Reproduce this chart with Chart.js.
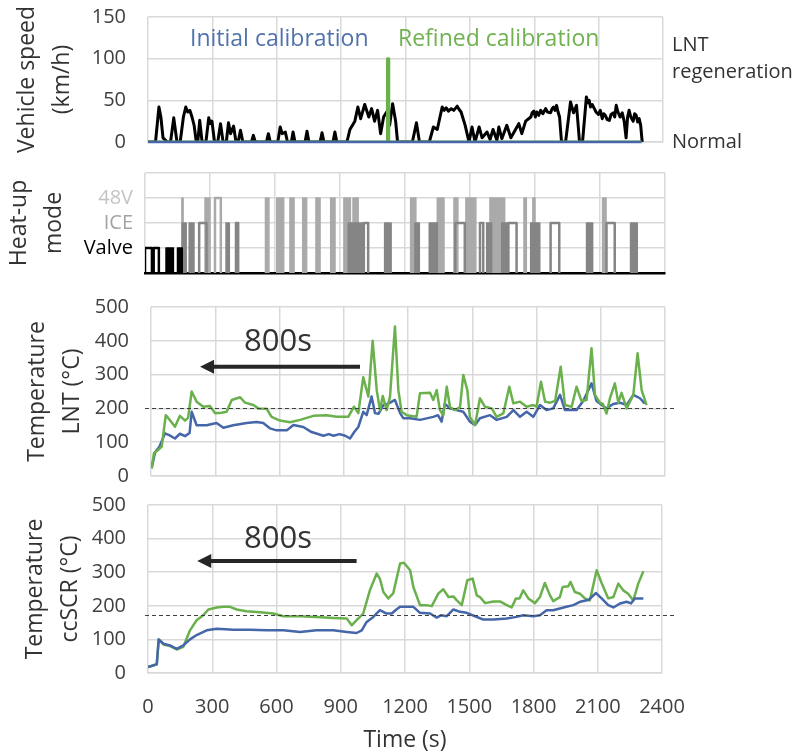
<!DOCTYPE html>
<html>
<head>
<meta charset="utf-8">
<title>LNT heat-up calibration</title>
<script src="https://cdn.jsdelivr.net/npm/chart.js@4.4.1/dist/chart.umd.min.js"></script>
<style>
  body { margin: 0; background: #fff; }
  #fig { position: relative; width: 801px; height: 756px; }
  #fig canvas { position: absolute; left: 0; }
  .tag { position: absolute; font: 23px "Open Sans", sans-serif; line-height: 30px; white-space: nowrap; }
</style>
</head>
<body>
<div id="fig">
  <canvas id="speed" width="801" height="160" style="top:0"></canvas>
  <canvas id="mode" width="801" height="125" style="top:160px"></canvas>
  <canvas id="lnt" width="801" height="200" style="top:290px"></canvas>
  <canvas id="scr" width="801" height="266" style="top:490px"></canvas>
  <div class="tag" style="left:190px;top:22px;color:#5072ad">Initial calibration</div>
  <div class="tag" style="left:398px;top:22px;color:#70b250">Refined calibration</div>
</div>
<script>
// vehicle speed (km/h) vs time (s)
const speedTime = [0,35,51,60,70,90, 105,120,135, 150,165,176,185,195,205,215,225, 232,241,252,
  270,283,290,298,310, 325,338,350, 365,375,385,399,410, 420,431,442, 482,491,500, 552,561,570,
  605,616,625,640,650, 668,676,685, 732,741,750, 802,811,820, 862,871,880,
  927,941,964,978,991,1010,1029,1042,1056,1070,1084,1098,1112,1126,1140,1154,1163,
  1232,1251,1265, 1311,1330,1348,1371,1380,1390,1400,1413,1425,1441,1450,1459,1478,1496,
  1510,1524,1543,1557,1580,1594,1608,1626,1635,1649,1672,1691,1728,1742,1760,
  1784,1790,1798,1805,1812,1821,1830,1840,1853,1862,1876,1883,1890,1897,1904,1911,1918,1927,
  1946,1969,1983,1997,2011,
  2025,2043,2050,2056,2062,2070,2080,2088,2099,2108,2117,2124,2131,2140,2150,2158,2168,2175,2182,2190,
  2200,2210,2219,2228,2235,2242,2250,2261,2268,2275,2282,2289,2296,2303];
const speedVal = [0,0,42,30,5,0, 0,29,0, 0,30,42,36,38,30,20,0, 0,26,0,
  0,29,22,25,0, 0,22,0, 0,23,10,19,0, 0,14,0, 0,8,0, 0,10,0,
  0,18,10,12,0, 0,12,0, 0,13,0, 0,11,0, 0,12,0,
  0,15,25,42,28,45,30,40,25,38,10,30,36,20,46,25,0,
  0,23,0, 0,18,15,42,38,41,37,40,38,43,39,36,20,0,
  18,0,18,5,12,3,15,2,18,4,20,5,22,10,25,
  30,35,37,30,36,32,38,34,40,36,35,40,42,38,44,36,30,0,
  0,48,35,44,0,
  0,54,47,50,42,45,40,36,33,38,28,34,32,27,26,33,35,30,44,36,
  30,35,25,5,30,38,30,25,34,32,24,28,20,0];

// LNT regeneration state (0 = normal, 100 = regeneration)
const regenInitialTime = [0, 2300];
const regenInitial = [0, 0];
const regenRefinedTime = [0, 1116, 1116, 1122, 1122, 2300];
const regenRefined = [0, 0, 100, 100, 0, 0];
const regenLabels = ['Normal', ['LNT', 'regeneration']];

// heat-up mode pulses [start, end] in s
const modeLabels = ['', 'Valve', 'ICE', '48V', ''];
const valveOpen = [[0, 32], [40, 64]];
const valveSolid = [[97, 131], [150, 172]];
const iceOpen = [[250, 284], [420, 430], [1010, 1030], [1432, 1476], [1546, 1561], [1677, 1715], [1872, 1912], [2130, 2168]];
const iceSolid = [[172, 190], [204, 226], [374, 389], [938, 1010], [1106, 1136], [1246, 1266], [1312, 1349],
  [1577, 1600], [1646, 1677], [1780, 1822], [2038, 2066], [2241, 2272]];
const v48Open = [[323, 350]];
const v48Solid = [[170, 176], [277, 300], [556, 572], [608, 640], [669, 688], [728, 746], [789, 808], [857, 877],
  [918, 948], [960, 984], [1226, 1250], [1349, 1380], [1426, 1444], [1481, 1527], [1592, 1660], [1749, 1760],
  [1790, 1800], [2112, 2128]];

// LNT temperature (°C)
const lntRefinedTime = [3,14,34,50,69,85,112,135,159,173,190,213,244,275,299,330,353,377,416,439,
  478,501,540,563,602,649,696,758,820,867,921,948,968,991,1015,1035,1054,1069,1082,1100,
  1116,1139,1155,1170,1194,1240,1256,1303,1318,1334,1349,1365,1381,1396,1419,1443,1458,1477,1489,1513,
  1536,1559,1591,1614,1645,1673,1692,1723,1754,1785,1800,1821,1840,1863,1887,1913,1933,1964,1987,2010,
  2034,2057,2073,2096,2110,2127,2143,2166,2182,2197,2221,2252,2272,2291,2314];
const lntRefined = [23,68,77,87,180,168,146,178,164,172,250,220,205,207,186,187,190,225,233,217,
  210,200,199,175,164,159,166,178,180,175,175,205,186,292,235,400,254,195,237,195,
  235,442,254,190,180,175,245,246,225,254,195,180,264,204,195,204,299,254,175,151,
  230,205,200,175,185,264,215,220,205,210,205,279,220,217,222,323,210,205,264,222,
  225,378,240,217,213,185,230,274,217,246,200,240,363,254,210];
const lntInitialTime = [3,19,40,65,85,112,135,159,180,190,213,260,306,338,384,447,493,524,555,587,
  634,665,711,750,805,830,852,880,907,929,950,968,991,1007,1030,1046,1062,1085,1108,1139,
  1163,1178,1210,1256,1318,1340,1357,1372,1395,1427,1458,1489,1513,1536,1583,1614,1661,1692,1723,1754,
  1785,1816,1847,1878,1910,1933,1987,2018,2057,2080,2127,2158,2190,2221,2252,2283,2306];
const lntInitial = [23,70,87,126,121,111,125,118,127,190,150,150,157,143,150,157,160,157,141,135,
  135,151,145,130,119,124,119,124,119,111,131,145,190,180,235,186,184,210,214,225,
  186,171,171,166,175,180,161,214,200,195,190,161,151,171,180,166,175,195,175,190,
  175,210,195,200,240,195,195,222,274,222,200,213,217,210,240,230,214];

// ccSCR temperature (°C)
const scrRefinedTime = [1,41,50,72,103,134,165,196,227,258,282,321,352,383,414,460,523,585,632,710,
  787,865,928,951,974,1005,1036,1068,1083,1099,1122,1145,1177,1195,1224,1239,1270,1301,1325,1356,
  1379,1403,1426,1442,1465,1491,1516,1535,1550,1574,1613,1644,1675,1698,1718,1735,1752,1776,1807,1830,
  1853,1877,1892,1923,1936,1962,1973,1993,2017,2040,2063,2095,2118,2149,2173,2196,2219,2242,2266,2289,2313];
const scrRefined = [18,26,100,85,80,70,78,127,157,172,189,195,197,197,189,184,181,177,169,169,
  167,164,162,142,157,177,246,296,280,241,222,237,326,328,306,256,202,202,199,237,
  249,226,228,216,202,276,281,231,226,208,213,213,202,195,222,222,246,222,208,226,
  268,231,214,226,256,258,271,241,236,222,216,306,268,222,226,266,246,236,216,266,303];
const scrInitialTime = [1,41,50,72,103,134,165,196,227,274,321,399,476,554,632,710,787,865,928,974,
  998,1021,1052,1083,1114,1138,1160,1177,1239,1270,1317,1348,1370,1395,1426,1457,1488,1527,1566,1613,
  1675,1721,1752,1799,1830,1861,1892,1923,1954,1986,2017,2056,2092,2118,2149,2173,2204,2235,2255,2273,2313];
const scrInitial = [18,26,100,87,82,72,82,100,113,127,132,129,129,127,127,122,127,127,122,119,
  127,152,167,187,177,177,189,197,197,179,177,165,172,169,189,182,179,169,159,159,
  162,167,172,169,172,187,187,192,197,202,212,217,238,222,202,195,207,212,207,222,222];

Chart.defaults.font.family = '"Open Sans", sans-serif';
Chart.defaults.color = '#333';

const BLUE = '#4566a8', GREEN = '#6ab04c', GRID = '#d9d9d9';

function xy(ts, vs) { return ts.map((t, i) => ({ x: t, y: vs[i] })); }

// square pulses, broken apart with nulls so the baseline stays clean
function pulses(list, level) {
  const pts = [];
  list.forEach(([a, b]) => {
    pts.push({ x: a, y: 0 }, { x: a, y: level }, { x: b, y: level }, { x: b, y: 0 }, { x: b, y: null });
  });
  return pts;
}

function fixedWidth(w) {
  return s => { s.width = w; s.paddingTop = 0; s.paddingBottom = 0; };
}
function fixedHeight(h) {
  return s => { s.height = h; s.paddingLeft = 0; s.paddingRight = 0; };
}

function timeAxis(showLabels, height, borderColor) {
  return {
    type: 'linear', min: 0, max: 2400,
    grid: { color: GRID, lineWidth: 1.5, drawTicks: false },
    border: { color: borderColor || GRID, width: borderColor ? 2.5 : 1.5 },
    ticks: { display: showLabels, stepSize: 300, autoSkip: false, maxRotation: 0, padding: 22,
      font: { size: 20 }, color: '#404040', callback: v => String(v) },
    title: { display: showLabels, text: 'Time (s)', font: { size: 23 }, padding: { top: 0, bottom: 2 } },
    afterFit: fixedHeight(height)
  };
}

function valueAxis(max, step, left, titleLines, titlePad) {
  return {
    min: 0, max: max,
    grid: { color: GRID, lineWidth: 1.5, drawTicks: false },
    border: { display: false },
    ticks: { stepSize: step, padding: 22, font: { size: 20 }, color: '#404040' },
    title: { display: true, text: titleLines, font: { size: 23, lineHeight: 1.52 },
      padding: { top: titlePad, bottom: 0 } },
    afterFit: fixedWidth(left)
  };
}

// dashed threshold line and the "800s" shift arrow
const overlay = {
  id: 'overlay',
  afterDatasetsDraw(chart, args, opts) {
    const { ctx, scales: { x, y } } = chart;
    ctx.save();
    if (opts.refValue !== undefined) {
      const py = Math.round(y.getPixelForValue(opts.refValue)) + 0.5;
      ctx.setLineDash([4, 3]);
      ctx.strokeStyle = '#404040';
      ctx.lineWidth = 1.2;
      ctx.beginPath();
      ctx.moveTo(opts.refLeft, py);
      ctx.lineTo(opts.refRight, py);
      ctx.stroke();
      ctx.setLineDash([]);
    }
    if (opts.arrow) {
      const a = opts.arrow;
      const x0 = x.getPixelForValue(a.from), x1 = x.getPixelForValue(a.to), py = y.getPixelForValue(a.y);
      ctx.strokeStyle = '#262626';
      ctx.fillStyle = '#262626';
      ctx.lineWidth = 4;
      ctx.beginPath();
      ctx.moveTo(x0, py);
      ctx.lineTo(x1 + 12, py);
      ctx.stroke();
      ctx.beginPath();
      ctx.moveTo(x1, py);
      ctx.lineTo(x1 + 14, py - 7);
      ctx.lineTo(x1 + 14, py + 7);
      ctx.closePath();
      ctx.fill();
      ctx.fillStyle = '#333';
      ctx.font = '31px "Open Sans", sans-serif';
      ctx.textAlign = 'center';
      ctx.textBaseline = 'middle';
      ctx.fillText(a.label, x.getPixelForValue(a.labelX), y.getPixelForValue(a.labelY));
    }
    ctx.restore();
  }
};

function baseOptions(padding, scales, overlayOpts) {
  return {
    responsive: false, animation: false, devicePixelRatio: 1,
    layout: { padding: padding },
    elements: { point: { radius: 0 }, line: { tension: 0, borderJoinStyle: 'round' } },
    plugins: { legend: { display: false }, tooltip: { enabled: false }, overlay: overlayOpts || {} },
    scales: scales
  };
}

new Chart(document.getElementById('speed'), {
  type: 'line',
  data: { datasets: [
    { data: xy(regenInitialTime, regenInitial), borderColor: BLUE, borderWidth: 2.5, clip: 4, order: 0 },
    { data: xy(regenRefinedTime, regenRefined), borderColor: GREEN, borderWidth: 3, order: 1 },
    { data: xy(speedTime, speedVal), borderColor: '#000', borderWidth: 3, order: 2 }
  ] },
  options: baseOptions({ top: 17, bottom: 18, left: 0, right: 0 }, {
    x: timeAxis(false, 0),
    y: valueAxis(150, 50, 148, ['Vehicle speed', '(km/h)'], 10),
    yR: {
      position: 'right', min: 0, max: 150,
      grid: { display: false, drawTicks: false }, border: { display: false },
      ticks: { stepSize: 50, autoSkip: false, padding: 9, font: { size: 20, lineHeight: 1.35 }, color: '#333',
        callback: v => v === 0 ? regenLabels[0] : (v === 100 ? regenLabels[1] : '') },
      afterFit: fixedWidth(138)
    }
  }),
  plugins: [overlay]
});

const modeLabelColors = ['#000', '#000', '#a3a3a3', '#c4c4c4', '#000'];
new Chart(document.getElementById('mode'), {
  type: 'line',
  data: { datasets: [
    { data: pulses(valveOpen, 1), borderColor: '#000', borderWidth: 2.5 },
    { data: pulses(valveSolid, 1), borderColor: '#000', backgroundColor: '#000', borderWidth: 1.5, fill: 'origin' },
    { data: pulses(iceOpen, 2), borderColor: '#858585', borderWidth: 2.5 },
    { data: pulses(iceSolid, 2), borderColor: '#858585', backgroundColor: '#858585', borderWidth: 1.5, fill: 'origin' },
    { data: pulses(v48Open, 3), borderColor: '#aaaaaa', borderWidth: 2.5 },
    { data: pulses(v48Solid, 3), borderColor: '#aaaaaa', backgroundColor: '#aaaaaa', borderWidth: 1.5, fill: 'origin' }
  ] },
  options: baseOptions({ top: 13, bottom: 12, left: 0, right: 136 }, {
    x: timeAxis(false, 0, '#000'),
    y: {
      min: 0, max: 4,
      grid: { color: c => c.tick.value === 0 ? 'rgba(0,0,0,0)' : GRID, lineWidth: 1.5, drawTicks: false },
      border: { display: false },
      ticks: { stepSize: 1, autoSkip: false, padding: 12, font: { size: 20 },
        color: c => modeLabelColors[c.tick.value], callback: v => modeLabels[v] },
      title: { display: true, text: ['Heat-up', 'mode'], font: { size: 23, lineHeight: 1.52 },
        padding: { top: 2, bottom: 0 } },
      afterFit: fixedWidth(145)
    }
  }),
  plugins: [overlay]
});

new Chart(document.getElementById('lnt'), {
  type: 'line',
  data: { datasets: [
    { data: xy(lntRefinedTime, lntRefined), borderColor: GREEN, borderWidth: 2.5 },
    { data: xy(lntInitialTime, lntInitial), borderColor: BLUE, borderWidth: 2.5 }
  ] },
  options: baseOptions({ top: 17, bottom: 14, left: 0, right: 136 }, {
    x: timeAxis(false, 0),
    y: valueAxis(500, 100, 151, ['Temperature', 'LNT (°C)'], 20)
  }, {
    refValue: 200, refLeft: 145, refRight: 676,
    arrow: { from: 976, to: 229, y: 323, label: '800s', labelX: 593, labelY: 395 }
  }),
  plugins: [overlay]
});

new Chart(document.getElementById('scr'), {
  type: 'line',
  data: { datasets: [
    { data: xy(scrInitialTime, scrInitial), borderColor: BLUE, borderWidth: 2.5 },
    { data: xy(scrRefinedTime, scrRefined), borderColor: GREEN, borderWidth: 2.5 }
  ] },
  options: baseOptions({ top: 15, bottom: 0, left: 0, right: 139 }, {
    x: timeAxis(true, 83),
    y: valueAxis(500, 100, 148, ['Temperature', 'ccSCR (°C)'], 18)
  }, {
    refValue: 172, refLeft: 145, refRight: 676,
    arrow: { from: 974, to: 230, y: 333, label: '800s', labelX: 607, labelY: 398 }
  }),
  plugins: [overlay]
});
</script>
</body>
</html>
